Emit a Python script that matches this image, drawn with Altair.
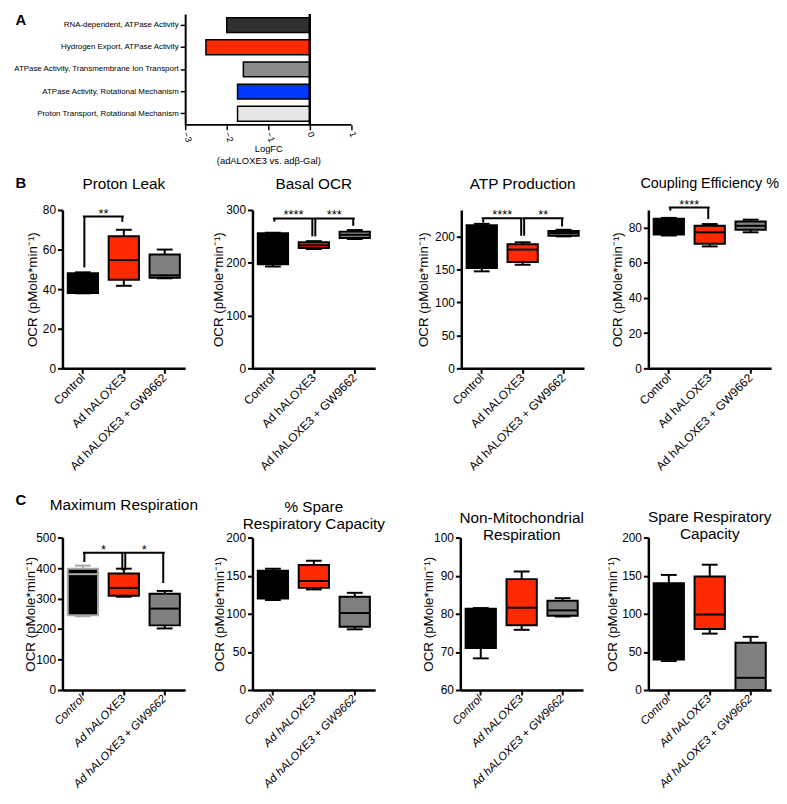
import altair as alt
import pandas as pd

FONT = "Liberation Sans"

GROUPS = ["Control", "Ad hALOXE3", "Ad hALOXE3 + GW9662"]
GROUP_FILLS = ["#000000", "#ff2a00", "#808080"]

# ---- Panel A ----
GO_TERMS = [
    "RNA-dependent, ATPase Activity",
    "Hydrogen Export, ATPase Activity",
    "ATPase Activity, Transmembrane Ion Transport",
    "ATPase Activity, Rotational Mechanism",
    "Proton Transport, Rotational Mechanism",
]
GO_LOGFC = [-2.0, -2.5, -1.6, -1.74, -1.74]
GO_FILLS = ["#303030", "#ff2a00", "#8a8a8a", "#0038ff", "#e6e6e6"]
LOGFC_TICKS = [-3, -2, -1, 0, 1]
LOGFC_TITLE = ["LogFC", "(adALOXE3 vs. adβ-Gal)"]

# ---- Panels B / C : [min, q1, median, q3, max] per group ----
PROTON_LEAK = [[37.9, 38, 43, 48, 48.5], [41.7, 44.7, 54.7, 66.7, 70], [45.5, 45.8, 47, 57.5, 60]]
BASAL_OCR = [[193, 197, 230, 256, 257], [226, 228, 233, 239, 241], [245, 247, 253, 259, 262]]
ATP_PRODUCTION = [[147, 152, 185, 217, 219], [157, 161, 180, 188, 191], [200, 201, 205, 208, 210]]
COUPLING_EFF = [[75.5, 76, 80, 85, 85.5], [69.3, 70.8, 77.3, 81.1, 82], [77.3, 78.7, 81, 83.4, 84.5]]
MAX_RESP = [[242, 245, 380, 398, 408], [306, 309, 335, 382, 398], [202, 212, 267, 316, 325]]
PCT_SPARE = [[118, 120, 135, 156.6, 159], [132, 134, 143, 164, 169.6], [79.6, 83, 101, 122.5, 127.5]]
NON_MITO = [[68.3, 71, 76, 81.3, 81.5], [75.8, 77, 81.6, 89.1, 91.1], [79.3, 79.5, 80.9, 83.4, 84.1]]
SPARE_CAP = [[38, 40, 90, 140, 151], [74, 80, 99, 149, 164.4], [0, 0, 16, 62, 69.8]]

# significance brackets: (from, to, bar level, left leg end, right leg end, label)
PROTON_LEAK_SIG = [("Control", "Ad hALOXE3", 76.7, 51, 74, "**")]
BASAL_OCR_SIG = [("Control", "Ad hALOXE3", 284, 278, 250, "****"),
                 ("Ad hALOXE3", "Ad hALOXE3 + GW9662", 284, 250, 270, "***")]
ATP_SIG = [("Control", "Ad hALOXE3", 227.5, 221, 201, "****"),
           ("Ad hALOXE3", "Ad hALOXE3 + GW9662", 227.5, 201, 215, "**")]
COUPLING_SIG = [("Control", "Ad hALOXE3", 91.4, 89.6, 84.9, "****")]
MAX_RESP_SIG = [("Control", "Ad hALOXE3", 450, 420, 393, "*"),
                ("Ad hALOXE3", "Ad hALOXE3 + GW9662", 450, 393, 351, "*")]

TITLES_B = [["Proton Leak"], ["Basal OCR"], ["ATP Production"], ["Coupling Efficiency %"]]
TITLES_C = [["Maximum Respiration"], ["% Spare", "Respiratory Capacity"],
            ["Non-Mitochondrial", "Respiration"], ["Spare Respiratory", "Capacity"]]
Y_TITLE = "OCR (pMole*min⁻¹)"


def text_layer(txt, x, y, size, weight="normal"):
    return alt.Chart(pd.DataFrame({"t": [txt]})).mark_text(
        fontSize=size, fontWeight=weight, color="black", align="center", baseline="middle",
        lineBreak="\n", lineHeight=17.5,
    ).encode(text="t:N", x=alt.value(x), y=alt.value(y))


def marker(x, y):
    # invisible point used to pin the layout box of a panel
    return alt.Chart(pd.DataFrame({"m": [0]})).mark_point(
        size=1, filled=True, opacity=0, strokeWidth=0
    ).encode(x=alt.value(x), y=alt.value(y))


def panel(title_lines, title_y, title_size, summary, domain, ticks, sig, title_x, height,
          left, right=None, top=None, bottom=None, italic=False, letter=None, letter_y=-26,
          first_edge="black"):
    df = pd.DataFrame({
        "group": GROUPS,
        "lo": [s[0] for s in summary],
        "q1": [s[1] for s in summary],
        "med": [s[2] for s in summary],
        "q3": [s[3] for s in summary],
        "hi": [s[4] for s in summary],
        "fillc": GROUP_FILLS,
        "edge": [first_edge, "black", "black"],
    })
    xs = alt.Scale(domain=GROUPS, paddingInner=0.26, paddingOuter=0.13)
    ys = alt.Scale(domain=domain, nice=False, zero=False)
    xaxis = alt.Axis(title=None, labelAngle=-45, labelAlign="right", labelBaseline="middle",
                     labelFontSize=11.5 if italic else 12, labelFontStyle="italic" if italic else "normal",
                     labelPadding=2, tickSize=5, tickWidth=2, domainWidth=2.5, labelLimit=0)
    yaxis = alt.Axis(title=Y_TITLE, values=ticks, titleX=title_x, titleFontSize=13.5,
                     titleFontWeight="normal", labelFontSize=12, tickSize=5, tickWidth=2,
                     domainWidth=2.5, labelPadding=2)

    def X(f):
        return alt.X(f + ":N", scale=xs, axis=xaxis, sort=GROUPS)

    def Y(f):
        return alt.Y(f + ":Q", scale=ys, axis=yaxis)

    edge = alt.Color("edge:N", scale=None)
    op = dict(opacity=1, fillOpacity=1, strokeOpacity=1)
    base = alt.Chart(df)
    layers = [
        base.mark_rule(strokeWidth=2, **op).encode(x=X("group"), y=Y("lo"), y2="hi:Q", color=edge),
        base.mark_tick(size=16, thickness=2, **op).encode(x=X("group"), y=Y("lo"), color=edge),
        base.mark_tick(size=16, thickness=2, **op).encode(x=X("group"), y=Y("hi"), color=edge),
        base.mark_bar(strokeWidth=2, **op).encode(
            x=X("group"), y=Y("q1"), y2="q3:Q",
            fill=alt.Fill("fillc:N", scale=None),
            stroke=alt.Stroke("edge:N", scale=None)),
        base.mark_tick(size=29, thickness=2, **op).encode(x=X("group"), y=Y("med"), color=edge),
    ]
    if sig:
        sdf = pd.DataFrame(sig, columns=["g1", "g2", "top", "e1", "e2", "stars"])
        sb = alt.Chart(sdf)
        layers += [
            sb.mark_rule(strokeWidth=2, color="black", **op).encode(x=X("g1"), x2="g2:N", y=Y("top")),
            sb.mark_rule(strokeWidth=2, color="black", xOffset=1.5, **op).encode(
                x=X("g1"), y=Y("top"), y2="e1:Q"),
            sb.mark_rule(strokeWidth=2, color="black", xOffset=-1.5, **op).encode(
                x=X("g2"), y=Y("top"), y2="e2:Q"),
            sb.mark_text(fontSize=13, dx=20.7, dy=1, baseline="alphabetic", color="black").encode(
                x=X("g1"), y=Y("top"), text="stars:N"),
        ]
    layers.append(text_layer("\n".join(title_lines), 62, title_y, title_size))
    if letter:
        layers.append(text_layer(letter, -42, letter_y, 15, "bold"))
    layers.append(marker(left, 0))
    if right is not None:
        layers.append(marker(right, 0))
    if top is not None:
        layers.append(marker(0, top))
    if bottom is not None:
        layers.append(marker(0, bottom))
    return alt.layer(*layers).properties(width=124, height=height)


# ---- Panel A chart (plot frame starts under panel B's first axis; bars drawn in [124, 292]) ----
dfA = pd.DataFrame({"term": GO_TERMS, "logfc": GO_LOGFC, "fillc": GO_FILLS})
xA = alt.Scale(domain=[-3, 1], nice=False, range=[124, 292])
bars = alt.Chart(dfA).mark_bar(stroke="black", strokeWidth=1.5, opacity=1, fillOpacity=1).encode(
    y=alt.Y("term:N", sort=GO_TERMS,
            scale=alt.Scale(domain=GO_TERMS, paddingInner=0.33, paddingOuter=0.165),
            axis=alt.Axis(title=None, labelFontSize=8, labelPadding=2, tickSize=5, tickWidth=1.5,
                          domainWidth=2, labelLimit=0, offset=-124)),
    x=alt.X("logfc:Q", scale=xA,
            axis=alt.Axis(values=LOGFC_TICKS, format="d", title=LOGFC_TITLE, titleFontSize=9.5, titleX=208,
                          titleFontWeight="normal", labelAngle=70, labelAlign="left", labelBaseline="middle",
                          labelFontSize=9, tickSize=5, tickWidth=1.5, domain=False, titlePadding=1,
                          labelPadding=2, titleLineHeight=12)),
    fill=alt.Fill("fillc:N", scale=None),
)
zero = alt.Chart(dfA).mark_rule(strokeWidth=2, color="black", opacity=1).encode(x=alt.datum(0))
baseline = alt.Chart(pd.DataFrame({"m": [0]})).mark_rule(strokeWidth=2, color="black", opacity=1).encode(
    x=alt.datum(-3), x2=alt.datum(1), y=alt.value(112))
chartA = alt.layer(
    bars, zero, baseline, text_layer("A", -42, 6.5, 15, "bold"),
    marker(-54, 0), marker(0, -1), marker(0, 161.5),
).properties(width=292, height=112)

B1 = panel(TITLES_B[0], -26, 15.5, PROTON_LEAK, [0, 80], [0, 20, 40, 60, 80], PROTON_LEAK_SIG, -23, 160,
           left=-54, right=125, top=-35, bottom=275, letter="B", letter_y=-27)
B2 = panel(TITLES_B[1], -26, 15.5, BASAL_OCR, [0, 300], [0, 100, 200, 300], BASAL_OCR_SIG, -27, 160,
           left=-65, right=125)
B3 = panel(TITLES_B[2], -26, 15.5, ATP_PRODUCTION, [0, 240], [0, 50, 100, 150, 200], ATP_SIG, -31, 160,
           left=-84, right=125)
B4 = panel(TITLES_B[3], -26, 14.5, COUPLING_EFF, [0, 90], [0, 20, 40, 60, 80], COUPLING_SIG, -24, 160,
           left=-62)

C1 = panel(TITLES_C[0], -33, 15.5, MAX_RESP, [0, 500], [0, 100, 200, 300, 400, 500], MAX_RESP_SIG, -25, 154,
           left=-54, right=140, top=-54, italic=True, letter="C", letter_y=-38, first_edge="#aaaaaa")
C2 = panel(TITLES_C[1], -31, 15.5, PCT_SPARE, [0, 200], [0, 50, 100, 150, 200], None, -26, 154,
           left=-50, right=137, italic=True)
C3 = panel(TITLES_C[2], -20, 15.5, NON_MITO, [60, 100], [60, 70, 80, 90, 100], None, -25, 154,
           left=-71, right=128, italic=True)
C4 = panel(TITLES_C[3], -21, 15.5, SPARE_CAP, [0, 200], [0, 50, 100, 150, 200], None, -29, 154,
           left=-60, italic=True)

rowB = alt.concat(B1, B2, B3, B4, columns=4, align="each", spacing=0)
rowC = alt.concat(C1, C2, C3, C4, columns=4, align="each", spacing=0)

chart = alt.concat(chartA, rowB, rowC, columns=1, align="each", spacing=0)
chart = chart.properties(padding=0).configure_view(stroke=None).configure_axis(
    labelFont=FONT, titleFont=FONT, labelColor="black", titleColor="black",
    domainColor="black", tickColor="black", grid=False,
).configure_text(font=FONT)

chart.save("out.html", embed_options={"renderer": "svg", "actions": False})
